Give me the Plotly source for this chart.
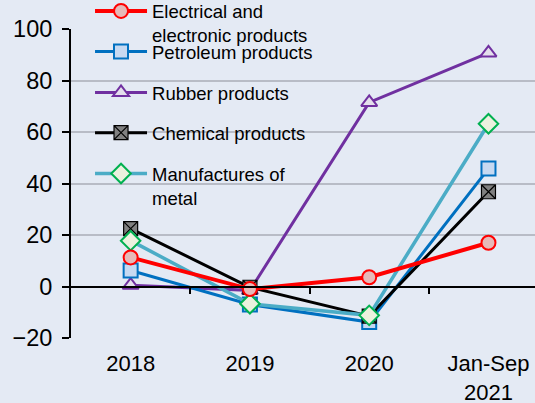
import plotly.graph_objects as go

categories = ["2018", "2019", "2020", "Jan-Sep<br>2021"]
electrical = [11.3, -1.0, 3.6, 17.0]
petroleum = [6.2, -7.0, -13.8, 45.8]
rubber = [0.5, -1.5, 71.5, 90.7]
chemical = [22.5, -0.3, -11.5, 36.8]
manufactures = [17.8, -6.7, -11.2, 63.2]

names = ["Electrical and<br>electronic products", "Petroleum products",
         "Rubber products", "Chemical products", "Manufactures of<br>metal"]

series = [electrical, petroleum, rubber, chemical, manufactures]
line_colors = ["#ff0000", "#0070c0", "#7030a0", "#000000", "#4bacc6"]
line_widths = [4, 3, 3, 3, 3.5]
symbols = ["circle", "square", "triangle-up", "square-x", "diamond"]
fills = ["#e6b9b8", "#c6d9f1", "#e4dfec", "#808080", "#ebf1de"]
borders = ["#ff0000", "#0070c0", "#7030a0", "#000000", "#00b050"]
sizes = [14, 14, 14, 14, 15]
legend_ids = ["legend", "legend2", "legend3", "legend4", "legend5"]
legend_y = [1.018, 0.926, 0.793, 0.663, 0.492]

fig = go.Figure()
order = [2, 1, 3, 4, 0]
for i in order:
    fig.add_trace(go.Scatter(
        x=categories, y=series[i], name=names[i], mode="lines+markers",
        line=dict(color=line_colors[i], width=line_widths[i]),
        marker=dict(symbol=symbols[i], size=sizes[i], color=fills[i],
                    line=dict(color=borders[i], width=2 if i != 3 else 1.2)),
        legend=legend_ids[i], cliponaxis=False,
    ))

fig.add_trace(go.Scatter(x=categories, y=[None] * 4, xaxis="x2", yaxis="y",
                         showlegend=False, hoverinfo="skip"))

font_family = "Liberation Sans, Arial, sans-serif"
layout_legends = {}
for i, lid in enumerate(legend_ids):
    layout_legends[lid] = dict(
        x=0.041, xanchor="left", y=legend_y[i], yanchor="middle",
        bgcolor="rgba(0,0,0,0)", borderwidth=0, itemwidth=52,
        valign="top", font=dict(size=18.5, color="black", family=font_family),
        tracegroupgap=0,
    )

y0_frac = (0 - (-20)) / 120.0
fig.update_layout(
    width=535, height=403,
    margin=dict(l=71, r=0, t=29, b=65, autoexpand=False),
    paper_bgcolor="#e4eaf4", plot_bgcolor="#e4eaf4",
    font=dict(family=font_family, color="black"),
    showlegend=True,
    xaxis=dict(range=[-0.5, 3.39], showgrid=False, showline=False, ticks="",
               tickfont=dict(size=22), ticklabelstandoff=10, zeroline=False,
               automargin=False),
    xaxis2=dict(range=[-0.5, 3.39], overlaying="x", anchor="free",
                position=y0_frac, side="bottom", showline=True,
                linecolor="black", linewidth=2, ticks="outside", ticklen=6,
                tickwidth=1.5, tickcolor="black", tickmode="array",
                tickvals=[0.5, 1.5, 2.5, 3.5], showticklabels=False,
                showgrid=False, zeroline=False),
    yaxis=dict(range=[-20, 100], dtick=20, showgrid=True, gridcolor="#b8bcc6",
               gridwidth=1.5, showline=True, linecolor="black", linewidth=2,
               ticks="outside", ticklen=7, tickwidth=1.5, tickcolor="black",
               tickfont=dict(size=23.5), ticklabelstandoff=5, zeroline=False,
               automargin=False),
    **layout_legends,
)

fig.write_html("out.html", config={"displayModeBar": False},
               post_script="document.body.style.margin='0';document.body.style.overflow='hidden';")
